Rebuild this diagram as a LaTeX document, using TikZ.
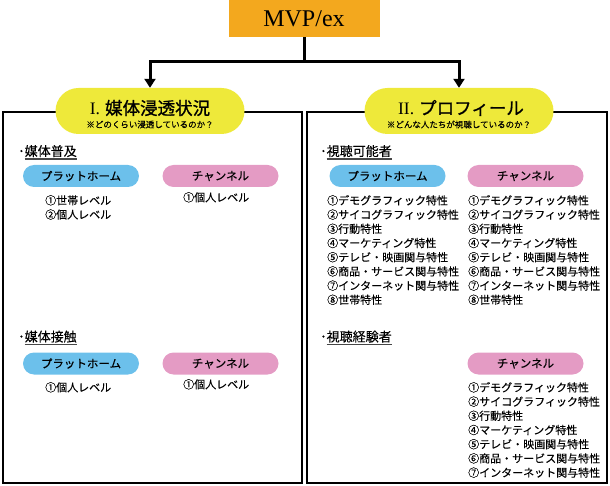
\documentclass[tikz,border=0pt]{standalone}
\usepackage{fontspec}
\setmainfont{Noto Sans CJK JP}
\newfontfamily\medfont{Noto Sans CJK JP}[FakeBold=1.1]
\newfontfamily\semifont{Noto Sans CJK JP}[FakeBold=0.45]
\newfontfamily\itemfont{Noto Sans CJK JP}[FakeBold=0.2]
\newfontfamily\romfont{Liberation Serif}
\usepackage{tikz}
\usetikzlibrary{arrows.meta,positioning}
\usepackage{xcolor}
\definecolor{mvporange}{RGB}{243,168,30}
\definecolor{titleyellow}{RGB}{238,233,58}
\definecolor{platblue}{RGB}{108,192,235}
\definecolor{chanpink}{RGB}{228,155,196}
\definecolor{ulgray}{RGB}{70,70,70}
\newcommand{\hdul}[1]{\leavevmode\vtop{\hbox{#1}\kern1.3pt{\color{ulgray}\hrule height 1.4pt}}}

\begin{document}
\begin{tikzpicture}[
    x=1pt, y=-1pt,
    panel/.style={
        draw,
        line width=2pt,
        minimum height=371pt,
        inner sep=0pt
    },
    topbox/.style={
        fill=mvporange,
        minimum width=151pt,
        minimum height=37pt,
        inner sep=0pt,
        font=\romfont\fontsize{24}{24}\selectfont
    },
    titlepill/.style={
        fill=titleyellow,
        rounded corners=23pt,
        minimum width=189pt,
        minimum height=46pt
    },
    titletext/.style={inner sep=0pt, font=\medfont\fontsize{17.5}{18}\selectfont},
    subtext/.style={inner sep=0pt, font=\itemfont\fontsize{8.5}{9}\selectfont},
    head/.style={anchor=base west, inner sep=0pt, font=\itemfont\fontsize{13}{13}\selectfont},
    pill/.style={
        rounded corners=11pt,
        minimum width=116pt,
        minimum height=22pt,
        inner sep=0pt,
        font=\semifont\fontsize{11.5}{12}\selectfont
    },
    plat/.style={pill, fill=platblue},
    chan/.style={pill, fill=chanpink},
    items/.style={
        anchor=north west,
        inner sep=0pt,
        align=left,
        font=\itemfont\fontsize{11}{14.2}\selectfont
    },
    link/.style={line width=3pt},
    arrowlink/.style={link, -{Triangle[width=11pt,length=9pt]}}
]
\useasboundingbox (0,0) rectangle (610,486);

% panels
\node[panel, minimum width=299pt] (lpanel) at (152.5,297.5) {};
\node[panel, minimum width=300pt] (rpanel) at (457,297.5) {};

% top
\node[topbox] (mvp) at (304,18.5) {MVP/ex};

\node[titlepill] (ltitle) at (150,111) {};
\node[titlepill] (rtitle) at (459,111) {};
\node[titletext] at (150,108) {{\romfont I.}\hspace{5pt}媒体浸透状況};
\node[titletext] at (461,108) {{\romfont II.}\hspace{5pt}プロフィール};
\node[subtext] at (150,124.5) {※どのくらい浸透しているのか？};
\node[subtext] at (459,124.5) {※どんな人たちが視聴しているのか？};

\coordinate (fork) at (304,62);
\draw[link] (mvp.south) -- (fork);
\draw[arrowlink] (fork) -| (ltitle.north);
\draw[arrowlink] (fork) -| (rtitle.north);

% I. media penetration
\node[head] (spread) at (18,156) {･\hdul{媒体普及}};
\node[plat] (lplat1) at (81,176) {プラットホーム};
\node[chan] (lchan1) at (220.5,176) {チャンネル};
\node[items] (lplat1i) at (45,195) {①世帯レベル\\②個人レベル};
\node[items] (lchan1i) at (183,192) {①個人レベル};

\node[head] (contact) at (18,341.5) {･\hdul{媒体接触}};
\node[plat] (lplat2) at (81,363.5) {プラットホーム};
\node[chan] (lchan2) at (220.5,363.5) {チャンネル};
\node[items] (lplat2i) at (45,382) {①個人レベル};
\node[items] (lchan2i) at (183,379) {①個人レベル};

% II. profile
\node[head] (reach) at (320,156) {･\hdul{視聴可能者}};
\node[plat] (rplat1) at (387.5,176) {プラットホーム};
\node[chan] (rchan1) at (525.5,176) {チャンネル};
\node[items] (rplat1i) at (327,195) {①デモグラフィック特性\\②サイコグラフィック特性\\③行動特性\\④マーケティング特性\\⑤テレビ・映画関与特性\\⑥商品・サービス関与特性\\⑦インターネット関与特性\\⑧世帯特性};
\node[items] (rchan1i) at (468,195) {①デモグラフィック特性\\②サイコグラフィック特性\\③行動特性\\④マーケティング特性\\⑤テレビ・映画関与特性\\⑥商品・サービス関与特性\\⑦インターネット関与特性\\⑧世帯特性};

\node[head] (viewed) at (320,341.5) {･\hdul{視聴経験者}};
\node[chan] (rchan2) at (525.5,363.5) {チャンネル};
\node[items] (rchan2i) at (468,382) {①デモグラフィック特性\\②サイコグラフィック特性\\③行動特性\\④マーケティング特性\\⑤テレビ・映画関与特性\\⑥商品・サービス関与特性\\⑦インターネット関与特性};

\end{tikzpicture}
\end{document}
